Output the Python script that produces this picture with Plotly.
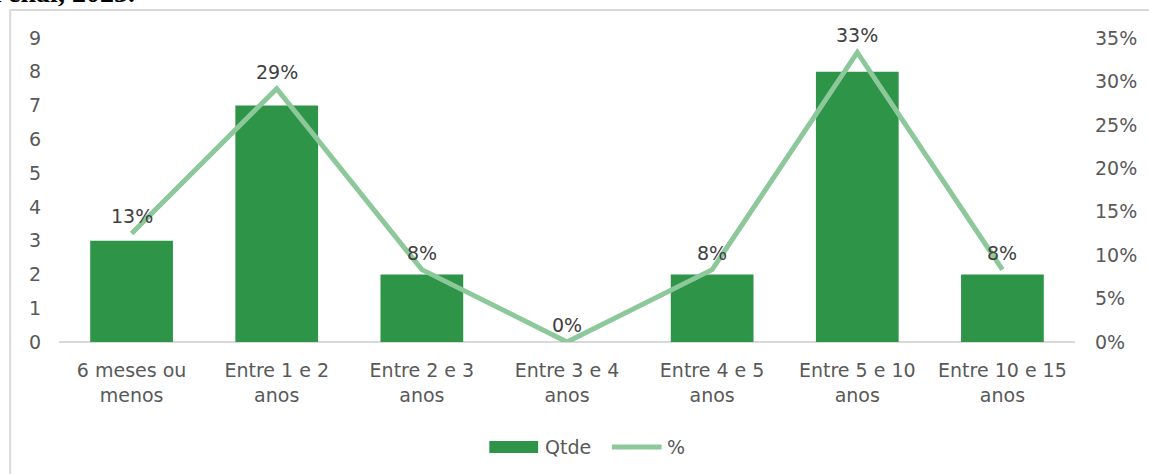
import plotly.graph_objects as go

categories = ["6 meses ou<br>menos", "Entre 1 e 2<br>anos", "Entre 2 e 3<br>anos",
              "Entre 3 e 4<br>anos", "Entre 4 e 5<br>anos", "Entre 5 e 10<br>anos",
              "Entre 10 e 15<br>anos"]
qtde = [3, 7, 2, 0, 2, 8, 2]
total = sum(qtde)
pct = [q / total for q in qtde]
# percentages rounded half-up, as a spreadsheet would show them
pct_labels = [f"{int(p * 100 + 0.5)}%" for p in pct]

left_ticks = list(range(0, 10))
right_ticks = [0, 0.05, 0.10, 0.15, 0.20, 0.25, 0.30, 0.35]

BAR = "#2E9448"
LINE = "#8CC89A"
TXT = "#595959"
FONT = "DejaVu Sans"

W, H = 1149, 474
L, R, T, B = 59, 70, 38, 132
PW, PH = W - L - R, H - T - B


def px(x):
    return (x - L) / PW


def py(y):
    return (T + PH - y) / PH


fig = go.Figure()
fig.add_trace(go.Bar(
    x=categories, y=qtde, name="Qtde", marker=dict(color=BAR, line=dict(width=0)),
    width=0.57, yaxis="y",
))
fig.add_trace(go.Scatter(
    x=categories, y=pct, name="%", mode="lines", yaxis="y2",
    line=dict(color=LINE, width=5),
    cliponaxis=False,
))

shapes = [
    # chart frame
    dict(type="rect", xref="paper", yref="paper", x0=px(10), x1=px(1170), y0=py(495), y1=py(10),
         line=dict(color="#D9D9D9", width=2), fillcolor="rgba(0,0,0,0)", layer="below"),
    # baseline
    dict(type="line", xref="paper", yref="paper", x0=0, x1=1, y0=0, y1=0,
         line=dict(color="#D9D9D9", width=2), layer="below"),
    # legend swatches
    dict(type="rect", xref="paper", yref="paper", x0=px(491), x1=px(540), y0=py(453), y1=py(441),
         fillcolor=BAR, line=dict(width=0)),
    dict(type="line", xref="paper", yref="paper", x0=px(614), x1=px(664), y0=py(447), y1=py(447),
         line=dict(color=LINE, width=5)),
]

annotations = [
    dict(xref="paper", yref="paper", x=px(545), y=py(447), text="Qtde", showarrow=False,
         xanchor="left", yanchor="middle", font=dict(family=FONT, size=19, color=TXT)),
    dict(xref="paper", yref="paper", x=px(667), y=py(447), text="%", showarrow=False,
         xanchor="left", yanchor="middle", font=dict(family=FONT, size=19, color=TXT)),
    dict(xref="paper", yref="paper", x=px(137), y=py(10), text="Penal, 2023.", showarrow=False,
         xanchor="right", yanchor="bottom",
         font=dict(family="Liberation Serif", size=28, color="#000000", weight="bold")),
]

# percentage labels above the line points
for c, p, lab in zip(categories, pct, pct_labels):
    annotations.append(dict(
        xref="x", yref="y2", x=c, y=p, text=lab, showarrow=False,
        xanchor="center", yanchor="middle", yshift=17,
        font=dict(family=FONT, size=19, color="#404040"),
    ))

fig.update_layout(
    width=W, height=H,
    margin=dict(l=L, r=R, t=T, b=B),
    plot_bgcolor="white", paper_bgcolor="white",
    showlegend=False,
    font=dict(family=FONT, size=19, color=TXT),
    xaxis=dict(showgrid=False, showline=False, zeroline=False, ticks="",
               tickfont=dict(family=FONT, size=19, color=TXT), ticklabelstandoff=15),
    yaxis=dict(range=[0, 9], tickvals=left_ticks, showgrid=False, zeroline=False, showline=False,
               tickfont=dict(family=FONT, size=19, color=TXT), ticklabelstandoff=17),
    yaxis2=dict(range=[0, 0.35], tickvals=right_ticks, tickformat=".0%", overlaying="y", side="right",
                showgrid=False, zeroline=False, showline=False,
                tickfont=dict(family=FONT, size=19, color=TXT), ticklabelstandoff=19),
    shapes=shapes,
    annotations=annotations,
)

fig.write_html("out.html")
